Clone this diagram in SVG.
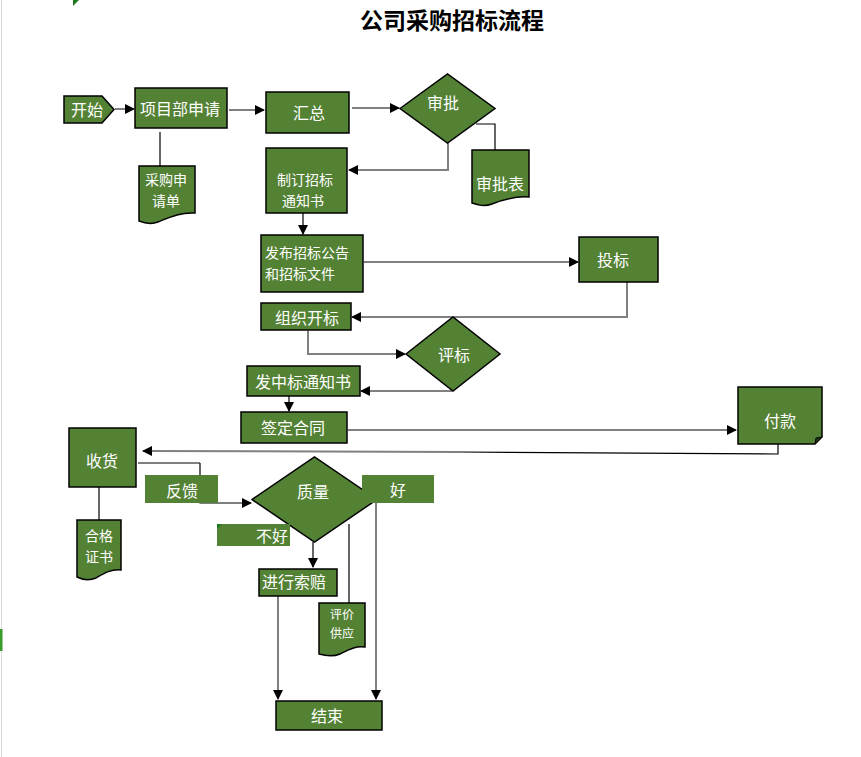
<svg xmlns="http://www.w3.org/2000/svg" width="861" height="757" viewBox="0 0 861 757">
<defs>
<marker id="ah" markerWidth="10" markerHeight="10" refX="9" refY="5" orient="auto" markerUnits="userSpaceOnUse">
<path d="M0,0 L10,5 L0,10 Z" fill="#000"/>
</marker>
<style>
.n{fill:#548235;stroke:#000;stroke-width:1.5}
.lb{fill:#548235;stroke:none}
.t{font-family:"Noto Sans CJK SC","Noto Sans",sans-serif;font-size:16px;fill:#fff;text-anchor:middle;dominant-baseline:central}
.t2{font-size:14px}
.ts{font-size:12px}
.g{fill:none;stroke:#808080;stroke-width:2}
.k{fill:none;stroke:#000;stroke-width:1.2}
.title{font-family:"Noto Sans CJK SC",sans-serif;font-size:23px;font-weight:700;fill:#000;text-anchor:middle}
</style>
</defs>
<rect width="861" height="757" fill="#fff"/>
<line x1="1.5" y1="0" x2="1.5" y2="757" stroke="#d9d9d9" stroke-width="1"/>
<rect x="0" y="629" width="2.5" height="22" fill="#3a9a2a"/>
<path d="M73,0 L79,0 L73,6 Z" fill="#1e7a1e"/>
<text class="title" x="452" y="29">公司采购招标流程</text>

<g id="connectors">
<line class="g" x1="115" y1="109" x2="134" y2="109" marker-end="url(#ah)"/>
<line class="k" x1="160" y1="132" x2="160" y2="166"/>
<line class="g" x1="229" y1="110" x2="264" y2="110" marker-end="url(#ah)"/>
<line class="g" x1="352" y1="108" x2="399" y2="108" marker-end="url(#ah)"/>
<polyline class="k" points="476,124 495,124 495,150"/>
<polyline class="g" points="448,143 448,170 349,170" marker-end="url(#ah)"/>
<line class="k" x1="303" y1="213" x2="303" y2="234" marker-end="url(#ah)"/>
<line class="g" x1="364" y1="262" x2="578" y2="262" marker-end="url(#ah)"/>
<polyline class="g" points="627,282 627,317 352,317" marker-end="url(#ah)"/>
<polyline class="g" points="308,331 308,354 405,354" marker-end="url(#ah)"/>
<polyline class="g" points="452,391 361,391" marker-end="url(#ah)"/>
<line class="k" x1="289" y1="396" x2="289" y2="411" marker-end="url(#ah)"/>
<line class="g" x1="348" y1="430" x2="736" y2="430" marker-end="url(#ah)"/>
<polyline class="k" points="778,444 778,454 460,452"/>
<polyline class="g" points="460,452 143,451" marker-end="url(#ah)"/>
<polyline class="g" points="138,463 200,463"/>
<polyline class="k" points="200,463 200,503 251,503" marker-end="url(#ah)"/>
<line class="k" x1="99" y1="487" x2="99" y2="520"/>
<line class="k" x1="313" y1="542" x2="313" y2="567" marker-end="url(#ah)"/>
<line class="k" x1="349" y1="524" x2="349" y2="603"/>
<line class="g" x1="376" y1="500" x2="376" y2="699" marker-end="url(#ah)"/>
<line class="g" x1="278" y1="596" x2="278" y2="699" marker-end="url(#ah)"/>
</g>

<g id="start"><path class="n" d="M64,96 L102,96 L114,109.5 L102,123 L64,123 Z"/><text class="t" x="87" y="109">开始</text></g>
<g id="apply"><rect class="n" x="135" y="88" width="92" height="40"/><text class="t" x="180" y="108">项目部申请</text></g>
<g id="applyForm"><path class="n" d="M139,166 H195 V213 C180,212 168,218 158,222 C150,225 144,223 139,221 Z"/><text class="t t2" x="166" y="179">采购申</text><text class="t t2" x="166" y="200">请单</text></g>
<g id="summary"><rect class="n" x="266" y="92" width="83" height="41"/><text class="t" x="309" y="112">汇总</text></g>
<g id="approve"><path class="n" d="M400,108.5 L447.5,74 L495,108.5 L447.5,143 Z"/><text class="t" x="443" y="102">审批</text></g>
<g id="approveForm"><path class="n" d="M472,150 H529 V197 C514,196 502,200 492,204 C484,207 478,205 472,203 Z"/><text class="t" x="500" y="183">审批表</text></g>
<g id="notice"><rect class="n" x="266" y="148" width="81" height="65"/><text class="t t2" x="305" y="179">制订招标</text><text class="t t2" x="303" y="200">通知书</text></g>
<g id="publish"><rect class="n" x="261" y="235" width="102" height="57"/><text class="t t2" x="265" y="252" style="text-anchor:start">发布招标公告</text><text class="t t2" x="265" y="273" style="text-anchor:start">和招标文件</text></g>
<g id="bid"><rect class="n" x="579" y="237" width="79" height="45"/><text class="t" x="613" y="259">投标</text></g>
<g id="open"><rect class="n" x="261" y="303" width="90" height="27"/><text class="t" x="307" y="317">组织开标</text></g>
<g id="evaluate"><path class="n" d="M406,354 L453,317 L500,354 L453,391 Z"/><text class="t" x="454" y="354">评标</text></g>
<g id="award"><rect class="n" x="247" y="366" width="113" height="30"/><text class="t" x="303" y="381">发中标通知书</text></g>
<g id="contract"><rect class="n" x="241" y="412" width="106" height="31"/><text class="t" x="293" y="427">签定合同</text></g>
<g id="pay"><path class="n" d="M738,387 H822 V437 L815,444 H738 Z"/><path d="M822,437 L815,444 L816,438 Z" fill="#1f3a12" stroke="#000" stroke-width="1"/><text class="t" x="780" y="420">付款</text></g>
<g id="receive"><rect class="n" x="69" y="428" width="67" height="59"/><text class="t" x="102" y="460">收货</text></g>
<g id="feedback"><rect class="lb" x="145" y="475" width="73" height="28"/><text class="t" x="182" y="490">反馈</text></g>
<g id="cert"><path class="n" d="M77,520 H121 V570 C110,569 103,574 96,578 C89,581 83,580 77,577 Z"/><text class="t t2" x="99" y="535">合格</text><text class="t t2" x="99" y="556">证书</text></g>
<g id="quality"><path class="n" d="M252,499.5 L314.5,457 L377,499.5 L314.5,542 Z"/><text class="t" x="313" y="491">质量</text></g>
<g id="good"><rect class="lb" x="362" y="475" width="72" height="28"/><text class="t" x="398" y="489">好</text></g>
<g id="bad"><rect class="lb" x="217" y="524" width="73" height="22"/><path d="M217,524 L222,524 L217,529 Z" fill="#1e7a1e"/><text class="t" x="272" y="535">不好</text></g>
<g id="claim"><rect class="n" x="259" y="569" width="78" height="27"/><text class="t" x="294" y="581">进行索赔</text></g>
<g id="rateSupply"><path class="n" d="M319,603 H365 V647 C354,646 348,650 340,654 C333,657 326,656 319,654 Z"/><text class="t ts" x="342" y="613">评价</text><text class="t ts" x="342" y="632">供应</text></g>
<g id="end"><rect class="n" x="276" y="701" width="106" height="29"/><text class="t" x="327" y="715">结束</text></g>
</svg>
